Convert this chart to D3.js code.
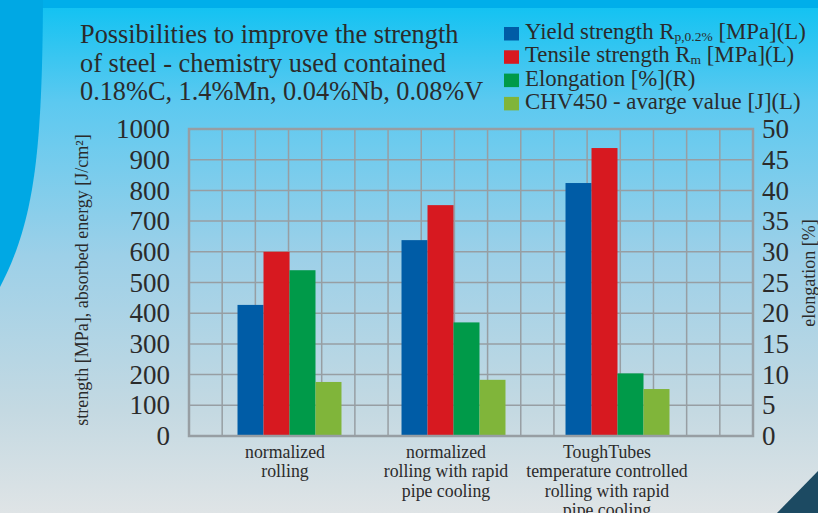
<!DOCTYPE html>
<html>
<head>
<meta charset="utf-8">
<script src="https://cdn.jsdelivr.net/npm/d3@7"></script>
<style>
  body { margin: 0; padding: 0; overflow: hidden; }
  svg text { font-family: "Liberation Serif", "Times New Roman", serif; fill: #2b2b2b; }
</style>
</head>
<body>
<div id="chart"></div>
<script>
// data
var categories = [
    ["normalized", "rolling"],
    ["normalized", "rolling with rapid", "pipe cooling"],
    ["ToughTubes", "temperature controlled", "rolling with rapid", "pipe cooling"]
];
var yieldStrength   = [427, 638, 824];   // MPa (L)
var tensileStrength = [600, 752, 938];   // MPa (L)
var elongation      = [27, 18.5, 10.2];  // % (R)
var chvValue        = [176, 183, 153];   // J (L)
var leftTicks  = [0, 100, 200, 300, 400, 500, 600, 700, 800, 900, 1000];
var rightTicks = [0, 5, 10, 15, 20, 25, 30, 35, 40, 45, 50];

var svgWidth = 818;
var svgHeight = 513;

var margin = { top: 129, bottom: 77, left: 189, right: 65 };
var chartWidth  = svgWidth  - margin.left - margin.right;
var chartHeight = svgHeight - margin.top  - margin.bottom;

var seriesColors = ["#005ca6", "#d71920", "#009a49", "#80b53a"];

var svg = d3.select("#chart")
    .append("svg")
    .attr("width", svgWidth)
    .attr("height", svgHeight);

// background
var defs = svg.append("defs");
var grad = defs.append("linearGradient")
    .attr("id", "bg")
    .attr("x1", 0).attr("y1", 0).attr("x2", 0).attr("y2", 1);
grad.append("stop").attr("offset", "0%").attr("stop-color", "#0ec2f2");
grad.append("stop").attr("offset", "20%").attr("stop-color", "#5cc9f0");
grad.append("stop").attr("offset", "50%").attr("stop-color", "#9dd0e8");
grad.append("stop").attr("offset", "80%").attr("stop-color", "#c4d9e2");
grad.append("stop").attr("offset", "100%").attr("stop-color", "#dfe4e6");

svg.append("rect")
    .attr("width", svgWidth).attr("height", svgHeight)
    .attr("fill", "url(#bg)");
svg.append("rect")
    .attr("width", svgWidth).attr("height", 8)
    .attr("fill", "#00aeea");
svg.append("path")
    .attr("d", "M0,0 H43 C42,150 35,220 0,287 Z")
    .attr("fill", "#00a8e4");
svg.append("path")
    .attr("d", "M777,513 L818,471 L818,513 Z")
    .attr("fill", "#1c4a62");

var chartGroup = svg.append("g")
    .attr("transform", `translate(${margin.left}, ${margin.top})`);

// scales
var yLeft = d3.scaleLinear().domain([0, 1000]).range([chartHeight, 0]);
var yRight = d3.scaleLinear().domain([0, 50]).range([chartHeight, 0]);
var gridX = d3.scaleLinear().domain([0, 17]).range([0, chartWidth]);

var xGroup = d3.scaleBand()
    .domain(d3.range(categories.length))
    .range([18.5, 510.5])
    .paddingInner(0.366)
    .paddingOuter(0.183);

var xSeries = d3.scaleBand()
    .domain(d3.range(4))
    .range([0, xGroup.bandwidth()]);

// labels sit a little left of the bar groups in the original
var xLabel = d3.scaleBand()
    .domain(d3.range(categories.length))
    .range([15.5, 498.5]);

// grid
chartGroup.append("g")
    .selectAll("line")
    .data(leftTicks)
    .enter()
    .append("line")
    .attr("x1", 0).attr("x2", chartWidth)
    .attr("y1", d => yLeft(d)).attr("y2", d => yLeft(d))
    .attr("stroke", "#979ea3")
    .attr("stroke-width", 1.5);

chartGroup.append("g")
    .selectAll("line")
    .data(d3.range(18))
    .enter()
    .append("line")
    .attr("x1", d => gridX(d)).attr("x2", d => gridX(d))
    .attr("y1", 0).attr("y2", chartHeight)
    .attr("stroke", "#979ea3")
    .attr("stroke-width", 1.5);

// bars
var rows = categories.map(function(c, i) {
    return [
        { s: 0, v: yieldStrength[i],   y: yLeft },
        { s: 1, v: tensileStrength[i], y: yLeft },
        { s: 2, v: elongation[i],      y: yRight },
        { s: 3, v: chvValue[i],        y: yLeft }
    ];
});

var groups = chartGroup.selectAll(".grp")
    .data(rows)
    .enter()
    .append("g")
    .attr("class", "grp")
    .attr("transform", (d, i) => `translate(${xGroup(i)}, 0)`);

groups.selectAll("rect")
    .data(d => d)
    .enter()
    .append("rect")
    .attr("x", d => xSeries(d.s))
    .attr("width", xSeries.bandwidth())
    .attr("y", d => d.y(d.v))
    .attr("height", d => chartHeight - d.y(d.v))
    .attr("fill", d => seriesColors[d.s]);

// plot border
chartGroup.append("rect")
    .attr("width", chartWidth).attr("height", chartHeight)
    .attr("fill", "none")
    .attr("stroke", "#979ea3")
    .attr("stroke-width", 2.5);

// axes
var leftAxis = d3.axisLeft(yLeft).tickValues(leftTicks).tickFormat(d3.format("d")).tickSize(0).tickPadding(19);
var rightAxis = d3.axisRight(yRight).tickValues(rightTicks).tickFormat(d3.format("d")).tickSize(0).tickPadding(9);

var gl = chartGroup.append("g").call(leftAxis);
var gr = chartGroup.append("g").attr("transform", `translate(${chartWidth}, 0)`).call(rightAxis);
[gl, gr].forEach(function(g) {
    g.select(".domain").remove();
    g.selectAll("text")
        .attr("font-family", "Liberation Serif")
        .attr("font-size", "27px")
        .attr("fill", "#2b2b2b");
});

// axis titles
svg.append("text")
    .attr("transform", "rotate(-90)")
    .attr("x", -280)
    .attr("y", 88)
    .attr("font-size", "18px")
    .style("text-anchor", "middle")
    .text("strength [MPa], absorbed energy [J/cm²]");

svg.append("text")
    .attr("transform", "rotate(-90)")
    .attr("x", -273)
    .attr("y", 815)
    .attr("font-size", "18px")
    .style("text-anchor", "middle")
    .text("elongation [%]");

// category labels
var catText = chartGroup.selectAll(".cat")
    .data(categories)
    .enter()
    .append("text")
    .attr("class", "cat")
    .attr("text-anchor", "middle")
    .attr("font-size", "17.8px")
    .attr("y", chartHeight + 22);

catText.each(function(lines, gi) {
    d3.select(this).selectAll("tspan")
        .data(lines)
        .enter()
        .append("tspan")
        .attr("x", xLabel(gi) + xLabel.bandwidth() / 2)
        .attr("dy", (d, i) => i === 0 ? 0 : 19.3)
        .text(d => d);
});

// title
var titleLines = [
    "Possibilities to improve the strength",
    "of steel - chemistry used contained",
    "0.18%C, 1.4%Mn, 0.04%Nb, 0.08%V"
];
svg.append("g").selectAll("text")
    .data(titleLines)
    .enter()
    .append("text")
    .attr("x", 80)
    .attr("y", (d, i) => 43 + i * 28.7)
    .attr("font-size", "26.3px")
    .text(d => d);

// legend
var legendItems = [
    { main: "Yield strength R", sub: "p,0.2%", rest: " [MPa](L)" },
    { main: "Tensile strength R", sub: "m", rest: " [MPa](L)" },
    { main: "Elongation [%](R)", sub: "", rest: "" },
    { main: "CHV450 - avarge value [J](L)", sub: "", rest: "" }
];
var legend = svg.append("g");
legendItems.forEach(function(item, i) {
    var base = 39 + i * 23.3;
    legend.append("rect")
        .attr("x", 504).attr("y", base - 12)
        .attr("width", 15).attr("height", 13.5)
        .attr("fill", seriesColors[i]);
    var t = legend.append("text")
        .attr("x", 525).attr("y", base)
        .attr("font-size", "22.8px");
    t.append("tspan").text(item.main);
    if (item.sub) {
        t.append("tspan").attr("font-size", "13.5px").attr("dy", 2).text(item.sub);
        t.append("tspan").attr("dy", -2).text(item.rest);
    }
});
</script>
</body>
</html>
